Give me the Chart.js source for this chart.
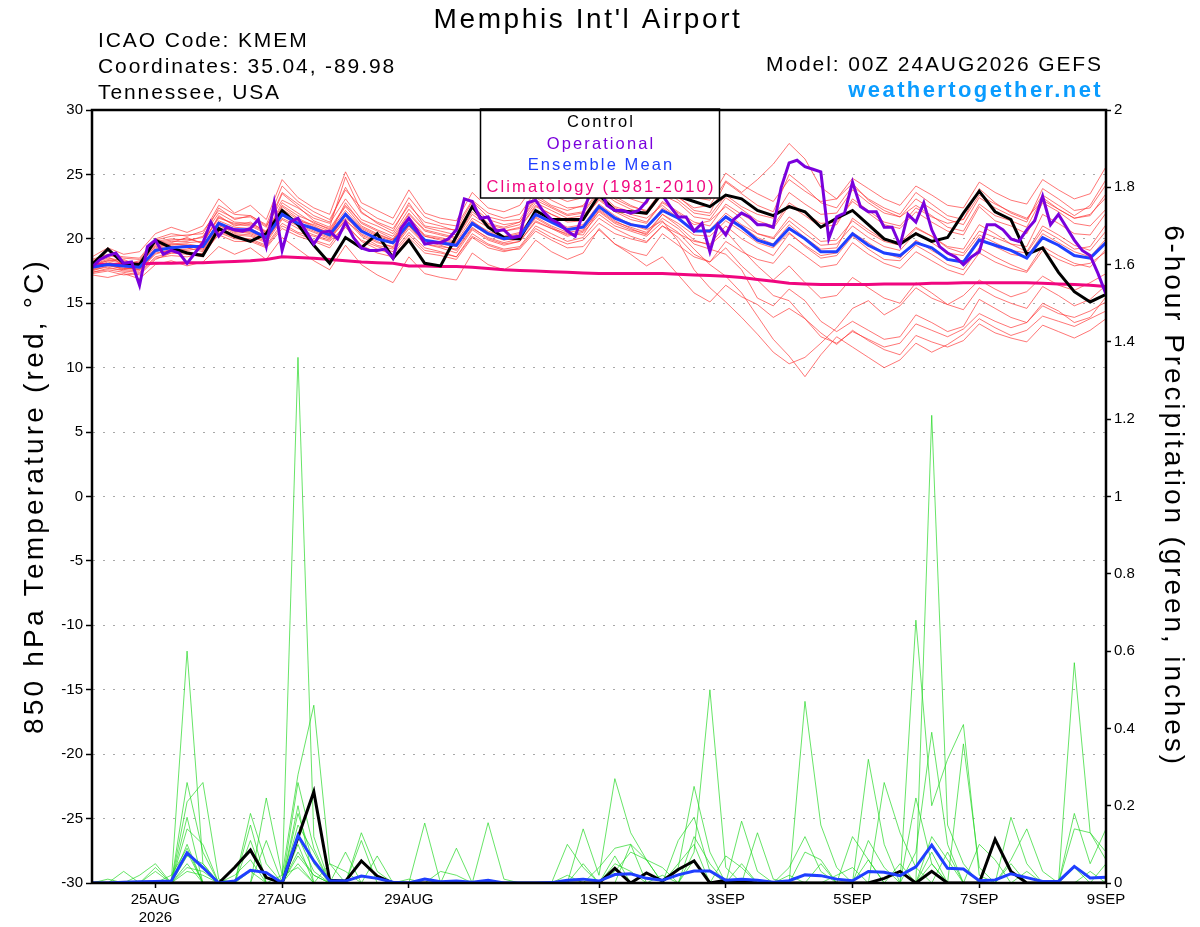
<!DOCTYPE html>
<html>
<head>
<meta charset="utf-8">
<title>Memphis Int'l Airport GEFS</title>
<script src="https://cdn.jsdelivr.net/npm/chart.js@4.4.1/dist/chart.umd.min.js"></script>
<style>
html, body { margin: 0; padding: 0; background: #fff; }
#wrap { width: 1200px; height: 927px; }
</style>
</head>
<body>
<div id="wrap"><canvas id="myChart" width="1200" height="927"></canvas></div>
<script>
// x axis: forecast hour from 00Z 24AUG2026
const tickHours = [24, 72, 120, 192, 240, 288, 336, 384];
const tickLabels = ['25AUG', '27AUG', '29AUG', '1SEP', '3SEP', '5SEP', '7SEP', '9SEP'];
const yearLabel = '2026';

// 850 hPa temperature, 6-hourly (65 values)
const controlTemp = [18.0, 19.2, 18.1, 18.0, 19.9, 19.3, 18.9, 18.7, 20.8, 20.2, 19.8, 20.4, 22.2, 21.1, 19.5, 18.1,
	20.1, 19.3, 20.4, 18.5, 19.9, 18.1, 17.9, 20.2, 22.5, 20.9, 20.1, 20.0, 22.2, 21.5, 21.5, 21.5,
	23.4, 22.2, 22.1, 22.0, 23.6, 23.3, 22.9, 22.5, 23.4, 23.1, 22.2, 21.8, 22.5, 22.1, 20.9, 21.6,
	22.2, 21.1, 20.0, 19.6, 20.4, 19.8, 20.1, 22.0, 23.7, 22.1, 21.5, 18.8, 19.3, 17.4, 15.9, 15.1, 15.7];
const meanTemp = [17.8, 18.0, 17.9, 17.8, 19.1, 19.3, 19.4, 19.4, 21.2, 20.7, 20.7, 20.1, 21.9, 21.2, 20.8, 20.3,
	21.9, 20.6, 20.0, 19.7, 21.2, 19.9, 19.7, 19.5, 21.2, 20.4, 20.0, 20.2, 21.9, 21.3, 20.7, 20.9,
	22.5, 21.6, 21.1, 20.9, 22.2, 21.6, 20.6, 20.6, 21.7, 20.9, 19.9, 19.5, 20.8, 20.0, 19.0, 19.0,
	20.4, 19.5, 18.9, 18.7, 19.7, 19.3, 18.4, 18.2, 19.9, 19.5, 19.1, 18.5, 20.1, 19.5, 18.7, 18.5, 19.7];
const climTemp = [18.0, 18.0, 18.0, 18.05, 18.1, 18.1, 18.15, 18.15, 18.2, 18.25, 18.3, 18.4, 18.6, 18.55, 18.5, 18.4,
	18.3, 18.2, 18.15, 18.1, 17.9, 17.9, 17.85, 17.85, 17.8, 17.7, 17.6, 17.55, 17.5, 17.45, 17.4, 17.35,
	17.3, 17.3, 17.3, 17.3, 17.3, 17.25, 17.2, 17.15, 17.1, 17.0, 16.85, 16.7, 16.55, 16.5, 16.45, 16.45,
	16.45, 16.45, 16.5, 16.5, 16.5, 16.55, 16.55, 16.6, 16.6, 16.6, 16.6, 16.6, 16.55, 16.5, 16.45, 16.4, 16.3];
// operational run, 3-hourly (129 values)
const operTemp = [17.8, 18.4, 18.7, 18.9, 18.1, 18.2, 16.4, 19.4, 19.9, 18.8, 19.1, 18.9, 18.1, 18.9, 19.7, 21.3,
	20.2, 20.9, 20.7, 20.6, 20.8, 21.5, 19.4, 22.8, 19.1, 21.3, 21.6, 20.6, 19.6, 20.5, 20.6, 20.0,
	21.3, 20.1, 19.3, 19.1, 19.1, 19.2, 18.5, 20.8, 21.6, 20.7, 19.6, 19.7, 19.7, 20.0, 20.7, 23.1,
	22.9, 21.6, 21.7, 20.6, 20.7, 20.1, 20.2, 22.8, 23.0, 22.1, 21.5, 21.2, 20.6, 20.2, 22.0, 23.8,
	24.2, 22.6, 22.2, 22.2, 22.0, 22.2, 22.9, 24.0, 23.4, 22.5, 21.7, 21.7, 20.6, 21.2, 19.0, 21.1,
	20.3, 21.5, 22.0, 21.7, 21.1, 21.1, 20.9, 24.0, 25.9, 26.1, 25.6, 25.4, 25.2, 20.0, 21.7, 22.0,
	24.4, 22.5, 22.1, 22.1, 20.9, 20.9, 19.5, 21.9, 21.3, 22.8, 20.7, 19.4, 18.9, 18.6, 18.0, 18.6,
	19.0, 21.1, 21.1, 20.7, 20.0, 19.8, 20.7, 21.4, 23.3, 21.1, 21.9, 20.9, 19.9, 19.1, 18.7, 17.3, 15.7];

// ensemble members, 6-hourly
const memberTemp = [
	[18.2, 18.6, 18.0, 18.3, 19.8, 20.0, 19.9, 20.1, 22.4, 21.5, 21.8, 21.0, 23.0, 22.4, 21.6, 21.2,
	 23.1, 21.5, 21.0, 20.4, 22.3, 20.9, 20.6, 20.3, 22.4, 21.2, 20.9, 21.3, 23.0, 22.4, 21.8, 22.0,
	 23.6, 22.5, 22.1, 21.9, 23.4, 22.8, 21.7, 21.5, 23.2, 22.3, 21.4, 21.0, 22.8, 22.0, 21.2, 21.3,
	 22.9, 22.0, 21.1, 20.8, 22.1, 21.3, 20.6, 20.3, 22.5, 21.4, 21.0, 20.4, 22.8, 22.1, 21.2, 21.0, 22.3],
	[17.6, 17.8, 17.5, 17.4, 18.6, 18.9, 19.0, 18.8, 20.6, 20.1, 20.0, 19.5, 21.2, 20.5, 20.2, 19.8,
	 21.0, 19.9, 19.4, 19.0, 20.5, 19.3, 19.0, 18.6, 20.4, 19.6, 19.2, 19.4, 21.0, 20.4, 19.8, 20.1,
	 21.6, 20.8, 20.2, 19.8, 21.0, 20.1, 18.8, 18.2, 19.3, 17.9, 16.8, 15.6, 15.2, 13.8, 12.4, 11.9,
	 12.8, 12.2, 11.6, 11.9, 13.4, 12.9, 12.4, 13.0, 14.2, 13.6, 13.1, 13.5, 14.8, 14.2, 13.9, 14.4, 15.1],
	[17.9, 18.3, 18.4, 17.9, 19.5, 19.7, 20.1, 19.6, 21.8, 21.0, 21.3, 20.5, 22.6, 21.8, 21.3, 20.7,
	 22.5, 21.0, 20.4, 19.9, 21.7, 20.3, 20.1, 19.8, 21.6, 20.9, 20.6, 20.9, 22.6, 21.9, 21.4, 21.6,
	 23.0, 22.1, 21.5, 21.2, 22.8, 22.0, 21.1, 21.4, 22.5, 21.6, 20.4, 20.1, 21.7, 20.8, 19.8, 19.9,
	 21.4, 20.5, 19.8, 19.5, 20.8, 20.2, 19.3, 18.9, 20.6, 20.1, 19.6, 19.0, 21.0, 20.3, 19.5, 19.1, 20.6],
	[17.4, 17.7, 17.6, 17.5, 18.9, 19.1, 19.2, 19.5, 20.9, 20.3, 20.2, 19.7, 21.5, 20.8, 20.3, 19.9,
	 21.5, 20.2, 19.5, 19.2, 20.8, 19.6, 19.4, 19.2, 20.9, 20.0, 19.6, 19.8, 21.4, 20.8, 20.2, 20.5,
	 21.9, 21.0, 20.6, 20.2, 21.3, 20.5, 19.2, 18.0, 17.1, 15.8, 14.0, 12.2, 10.9, 9.3, 11.0, 12.4,
	 11.6, 10.8, 10.0, 10.6, 11.9, 11.2, 11.8, 12.6, 13.8, 13.1, 12.5, 12.9, 14.0, 13.6, 13.2, 13.8, 14.4],
	[18.0, 18.4, 18.2, 18.1, 19.6, 19.8, 19.8, 20.2, 22.0, 21.3, 21.2, 20.6, 23.5, 22.5, 21.4, 20.9,
	 24.8, 22.1, 21.2, 20.6, 22.8, 21.0, 20.8, 20.7, 22.9, 21.7, 21.4, 21.5, 23.4, 22.6, 22.2, 22.6,
	 24.2, 23.3, 22.6, 22.1, 23.7, 23.2, 22.4, 22.6, 24.5, 23.6, 24.6, 25.8, 27.4, 26.2, 24.0, 23.1,
	 24.3, 23.0, 22.2, 21.7, 22.6, 21.8, 20.9, 20.6, 22.7, 21.8, 21.4, 20.9, 23.2, 22.3, 21.6, 21.8, 23.5],
	[17.5, 17.9, 17.7, 17.6, 19.0, 19.4, 19.3, 19.0, 21.0, 20.6, 20.4, 19.9, 21.6, 21.0, 20.5, 20.0,
	 21.8, 20.3, 19.7, 19.4, 21.0, 19.6, 19.3, 18.9, 20.7, 19.9, 19.5, 19.8, 21.3, 20.8, 20.4, 20.3,
	 22.2, 21.3, 20.9, 20.5, 21.9, 21.2, 20.3, 20.2, 21.4, 20.6, 19.7, 19.3, 20.5, 19.4, 18.5, 18.7,
	 20.2, 19.2, 18.4, 18.3, 19.5, 18.8, 18.0, 17.6, 19.3, 18.6, 18.0, 17.5, 19.4, 18.7, 18.1, 17.8, 19.2],
	[17.7, 18.1, 17.8, 17.6, 18.8, 19.2, 19.1, 19.3, 21.3, 20.6, 20.5, 20.0, 21.9, 21.3, 20.7, 20.2,
	 21.6, 20.7, 20.0, 19.6, 21.2, 19.9, 19.6, 19.4, 21.1, 20.3, 19.9, 20.1, 21.7, 21.0, 20.5, 20.7,
	 22.1, 21.2, 20.7, 20.4, 21.6, 20.8, 19.6, 19.2, 18.8, 17.6, 15.4, 14.8, 16.1, 15.2, 13.6, 12.8,
	 13.6, 12.9, 12.2, 12.4, 14.1, 13.5, 12.8, 13.2, 15.3, 14.6, 13.9, 13.5, 15.0, 14.4, 13.5, 13.9, 15.5],
	[18.3, 18.7, 18.5, 18.4, 19.9, 20.2, 20.3, 20.4, 22.6, 21.9, 21.8, 21.1, 24.1, 22.9, 22.1, 21.5,
	 23.8, 22.4, 21.6, 21.1, 23.2, 21.7, 21.2, 21.0, 23.0, 22.0, 21.6, 21.9, 23.7, 23.0, 22.4, 22.5,
	 24.0, 23.1, 22.5, 22.2, 23.8, 23.0, 22.0, 21.8, 23.4, 22.5, 21.9, 21.6, 23.6, 22.7, 21.9, 22.0,
	 23.8, 22.8, 22.0, 21.7, 23.1, 22.3, 21.5, 21.1, 23.2, 22.4, 21.8, 21.3, 23.9, 23.1, 22.2, 22.4, 24.2],
	[17.3, 17.5, 17.2, 17.3, 18.5, 18.7, 18.6, 18.9, 20.3, 19.8, 19.8, 19.3, 20.8, 20.2, 19.8, 19.3,
	 20.9, 19.5, 18.9, 18.6, 20.1, 18.9, 18.7, 18.4, 20.1, 19.3, 19.0, 19.3, 20.8, 20.1, 19.6, 19.9,
	 21.2, 20.4, 20.0, 19.7, 21.0, 20.4, 19.8, 19.6, 21.0, 20.0, 19.3, 18.7, 20.4, 19.5, 18.7, 18.9,
	 20.5, 19.7, 18.9, 18.5, 19.9, 19.1, 18.4, 18.3, 20.1, 19.4, 18.8, 18.6, 20.4, 19.7, 19.0, 18.6, 20.0],
	[17.8, 18.2, 17.9, 17.8, 19.2, 19.5, 19.6, 19.4, 21.4, 20.9, 20.8, 20.2, 22.3, 21.5, 20.9, 20.5,
	 22.0, 20.8, 20.2, 19.8, 21.5, 20.2, 20.0, 19.7, 21.3, 20.6, 20.2, 20.5, 22.1, 21.5, 20.9, 21.1,
	 22.7, 21.8, 21.1, 20.7, 21.4, 19.8, 17.6, 16.2, 15.1, 13.9, 12.6, 11.2, 10.3, 10.8, 11.9, 13.1,
	 14.6, 15.2, 14.1, 14.8, 16.2, 15.4, 14.9, 15.6, 16.8, 16.1, 15.5, 15.9, 17.1, 16.4, 16.0, 16.6, 17.3],
	[18.1, 18.5, 18.3, 18.0, 19.4, 19.6, 19.7, 19.8, 21.7, 21.1, 21.0, 20.4, 22.0, 21.4, 21.1, 20.6,
	 22.2, 20.9, 20.3, 19.9, 21.5, 20.2, 19.9, 19.6, 21.4, 20.5, 20.1, 20.4, 22.0, 21.3, 20.8, 21.0,
	 22.4, 21.6, 21.2, 20.8, 22.4, 21.6, 20.6, 20.7, 22.0, 21.1, 20.4, 20.0, 21.4, 20.4, 19.5, 19.6,
	 21.0, 20.1, 19.4, 19.1, 20.5, 19.7, 18.9, 18.7, 20.3, 19.7, 19.1, 18.9, 20.7, 20.0, 19.2, 19.4, 21.1],
	[17.6, 18.0, 17.7, 17.7, 19.3, 19.6, 19.5, 19.2, 21.2, 20.5, 20.6, 20.0, 22.5, 21.6, 21.0, 20.4,
	 22.8, 21.2, 20.6, 20.0, 21.9, 20.6, 20.3, 20.0, 21.9, 21.0, 20.6, 20.8, 22.5, 21.9, 21.3, 21.4,
	 23.1, 22.2, 21.7, 21.3, 22.9, 22.1, 21.3, 21.0, 22.7, 21.9, 21.2, 20.8, 22.6, 21.8, 20.9, 21.1,
	 23.1, 22.2, 21.3, 21.0, 22.4, 21.7, 21.2, 21.5, 23.9, 22.8, 22.0, 21.5, 23.4, 22.6, 21.8, 22.6, 24.6],
	[17.4, 17.6, 17.4, 17.2, 18.4, 18.9, 18.8, 18.6, 20.5, 20.0, 19.9, 19.4, 21.0, 20.4, 19.9, 19.5,
	 21.2, 19.8, 19.2, 18.8, 20.3, 19.1, 18.9, 18.6, 20.2, 19.5, 19.1, 19.2, 20.6, 19.9, 19.3, 19.4,
	 20.7, 19.6, 18.8, 17.9, 18.6, 17.2, 15.8, 15.1, 16.4, 15.5, 14.9, 13.9, 14.6, 13.8, 12.7, 11.8,
	 12.9, 12.1, 11.4, 11.0, 12.5, 12.0, 11.6, 12.1, 13.4, 12.7, 12.3, 12.0, 13.3, 12.8, 12.3, 12.9, 13.8],
	[18.4, 18.8, 18.6, 18.5, 20.0, 20.4, 20.2, 20.6, 22.2, 21.6, 21.7, 20.9, 23.6, 22.7, 21.8, 21.3,
	 24.0, 22.0, 21.3, 20.8, 22.6, 21.3, 21.0, 20.6, 22.5, 21.5, 21.1, 21.3, 23.2, 22.5, 21.9, 22.1,
	 23.8, 22.9, 22.3, 21.9, 23.9, 23.3, 22.2, 22.0, 24.4, 23.5, 22.6, 22.1, 25.0, 24.0, 22.8, 22.4,
	 24.1, 23.1, 22.4, 21.9, 23.6, 22.7, 21.8, 21.5, 23.4, 22.7, 22.1, 21.6, 23.0, 22.3, 21.6, 21.9, 23.2],
	[17.7, 18.0, 17.6, 17.9, 19.1, 19.3, 19.5, 19.1, 21.1, 20.4, 20.3, 19.8, 21.8, 21.1, 20.6, 20.1,
	 21.4, 20.4, 19.8, 19.3, 21.0, 19.8, 19.5, 19.1, 20.8, 20.1, 19.7, 20.0, 21.6, 20.9, 20.3, 20.6,
	 22.3, 21.4, 20.8, 20.3, 21.9, 21.0, 19.9, 19.5, 20.6, 19.2, 17.9, 16.8, 17.9, 16.6, 15.4, 15.6,
	 17.0, 16.2, 15.4, 15.0, 16.6, 15.8, 14.9, 14.5, 16.2, 15.5, 15.0, 14.6, 16.3, 15.6, 14.8, 15.3, 16.4],
	[18.0, 18.3, 18.1, 18.2, 19.7, 19.9, 20.0, 19.7, 21.6, 21.2, 21.1, 20.5, 22.8, 22.0, 21.2, 20.8,
	 22.6, 21.3, 20.7, 20.2, 22.0, 20.7, 20.4, 20.1, 22.1, 21.1, 20.8, 21.1, 22.8, 22.2, 21.6, 21.8,
	 23.3, 22.4, 21.9, 21.6, 22.6, 21.6, 20.7, 20.5, 21.8, 21.0, 20.1, 19.6, 21.1, 20.1, 19.2, 19.3,
	 21.6, 20.7, 19.9, 19.7, 20.9, 20.2, 19.4, 19.2, 21.1, 20.4, 19.6, 19.4, 21.9, 21.2, 20.4, 20.3, 22.0],
	[17.2, 17.0, 17.3, 16.9, 18.0, 18.3, 17.9, 18.2, 19.4, 18.8, 19.3, 18.4, 20.1, 19.2, 18.3, 17.6,
	 19.5, 18.0, 17.2, 16.6, 18.6, 17.3, 17.0, 16.8, 18.9, 18.0, 17.6, 18.3, 19.9, 19.0, 18.4, 18.9,
	 20.8, 19.6, 19.0, 18.7, 20.4, 19.5, 18.6, 18.2, 19.8, 19.0, 18.4, 18.1, 19.6, 18.7, 17.8, 18.0,
	 19.7, 18.8, 18.1, 17.7, 19.0, 18.3, 17.6, 17.2, 18.9, 18.2, 17.7, 17.4, 19.1, 18.4, 17.9, 18.1, 19.0],
	[18.6, 19.3, 18.8, 19.0, 20.4, 20.9, 20.5, 21.0, 23.1, 22.0, 22.6, 21.5, 24.6, 23.2, 22.4, 21.9,
	 25.2, 22.8, 22.2, 21.6, 23.8, 22.0, 21.6, 21.4, 23.6, 22.4, 22.1, 22.6, 24.3, 23.4, 22.9, 23.2,
	 24.8, 23.6, 23.1, 22.7, 24.9, 24.1, 23.2, 23.0, 25.1, 24.2, 23.5, 22.9, 24.6, 23.7, 22.9, 23.1,
	 24.7, 23.9, 23.1, 22.6, 24.1, 23.4, 22.6, 22.4, 24.4, 23.6, 23.0, 22.7, 24.6, 23.8, 23.1, 23.5, 25.6]
];

// 6-hour precipitation (inches), 6-hourly
const controlPrecip = [0, 0, 0, 0, 0, 0, 0, 0, 0, 0.04, 0.085, 0.014, 0, 0.118, 0.236, 0.007,
	0.005, 0.057, 0.018, 0, 0, 0, 0, 0, 0, 0, 0, 0, 0, 0, 0, 0,
	0, 0.038, 0, 0.026, 0.005, 0.035, 0.057, 0, 0.007, 0.003, 0, 0, 0, 0, 0, 0,
	0, 0, 0.012, 0.03, 0, 0.03, 0, 0, 0, 0.113, 0.03, 0, 0, 0, 0, 0, 0];
const meanPrecip = [0, 0, 0.002, 0.003, 0.004, 0.005, 0.078, 0.04, 0, 0.005, 0.033, 0.027, 0, 0.123, 0.057, 0.005,
	0.005, 0.018, 0.012, 0.002, 0, 0.01, 0.003, 0.005, 0.002, 0.007, 0, 0, 0, 0.001, 0.007, 0.01,
	0.005, 0.022, 0.024, 0.012, 0.007, 0.021, 0.031, 0.031, 0.007, 0.01, 0.007, 0.002, 0.006, 0.021, 0.019, 0.01,
	0.006, 0.03, 0.028, 0.019, 0.042, 0.098, 0.038, 0.036, 0.006, 0.008, 0.024, 0.014, 0.004, 0.004, 0.043, 0.013, 0.015];
const memberPrecip = [
	[0, 0, 0, 0, 0, 0, 0.60, 0.05, 0, 0, 0, 0, 0, 0.08, 0.02, 0, 0, 0, 0, 0, 0, 0, 0, 0, 0, 0, 0, 0, 0, 0, 0, 0,
	 0, 0.05, 0.03, 0, 0, 0, 0, 0, 0, 0, 0, 0, 0, 0, 0, 0, 0, 0, 0, 0, 0, 1.21, 0.15, 0.05, 0, 0, 0, 0, 0, 0, 0.04, 0, 0],
	[0, 0, 0.03, 0, 0, 0, 0.26, 0.08, 0, 0, 0.18, 0.05, 0, 1.36, 0.12, 0, 0, 0, 0, 0, 0, 0, 0, 0, 0, 0, 0, 0, 0, 0, 0, 0,
	 0, 0, 0, 0, 0, 0, 0.08, 0.50, 0.04, 0, 0, 0, 0, 0, 0, 0, 0, 0, 0, 0, 0.08, 0.39, 0.1, 0, 0, 0, 0, 0, 0, 0, 0, 0, 0],
	[0, 0, 0, 0, 0, 0, 0.21, 0.26, 0.01, 0, 0, 0.22, 0.02, 0.28, 0.46, 0.05, 0, 0, 0, 0, 0, 0, 0, 0, 0, 0, 0, 0, 0, 0, 0, 0,
	 0, 0, 0, 0, 0, 0, 0, 0, 0, 0, 0, 0, 0, 0.47, 0.15, 0.04, 0, 0, 0, 0, 0, 0, 0, 0, 0, 0, 0.17, 0.05, 0, 0, 0, 0, 0],
	[0, 0, 0, 0.02, 0.05, 0, 0.17, 0, 0, 0, 0.15, 0, 0, 0.26, 0.09, 0, 0, 0.13, 0.03, 0, 0, 0, 0, 0, 0, 0, 0, 0, 0, 0, 0, 0,
	 0, 0, 0, 0, 0, 0, 0, 0, 0, 0, 0, 0, 0, 0, 0, 0, 0, 0, 0, 0, 0.68, 0.2, 0.32, 0.41, 0.02, 0, 0, 0, 0, 0, 0, 0, 0],
	[0, 0, 0, 0, 0, 0, 0.14, 0.1, 0, 0, 0.11, 0, 0, 0.2, 0, 0, 0.08, 0, 0, 0, 0, 0.155, 0, 0.09, 0, 0, 0, 0, 0, 0, 0, 0,
	 0, 0, 0, 0, 0, 0, 0, 0, 0, 0, 0, 0, 0, 0, 0, 0, 0, 0.32, 0.1, 0, 0, 0, 0, 0, 0, 0, 0, 0, 0, 0, 0.57, 0.13, 0.06],
	[0, 0, 0, 0, 0.04, 0, 0.1, 0, 0, 0, 0, 0, 0, 0.15, 0.08, 0, 0, 0.11, 0, 0, 0, 0, 0, 0, 0, 0.156, 0.01, 0, 0, 0, 0.02, 0,
	 0, 0, 0, 0, 0, 0.04, 0.25, 0.08, 0, 0.16, 0.03, 0, 0, 0, 0, 0, 0, 0, 0.26, 0.13, 0.04, 0, 0, 0, 0, 0, 0, 0, 0, 0, 0, 0, 0],
	[0, 0.01, 0, 0, 0, 0, 0.07, 0.05, 0, 0, 0, 0.11, 0, 0.18, 0.05, 0, 0, 0, 0.07, 0, 0, 0, 0, 0, 0, 0, 0, 0, 0, 0, 0, 0.14,
	 0.02, 0.27, 0.13, 0.06, 0, 0, 0, 0, 0, 0, 0, 0, 0, 0, 0.05, 0, 0.12, 0.06, 0, 0, 0, 0, 0, 0.36, 0.04, 0, 0, 0, 0, 0, 0, 0, 0],
	[0, 0, 0, 0, 0, 0.02, 0.09, 0, 0, 0.02, 0.06, 0, 0, 0.12, 0.03, 0, 0, 0, 0, 0, 0, 0, 0, 0, 0, 0, 0, 0, 0, 0, 0.1, 0.04,
	 0, 0, 0.1, 0.06, 0, 0.11, 0.17, 0.03, 0, 0, 0.13, 0.01, 0, 0, 0, 0, 0, 0, 0, 0, 0.22, 0.05, 0, 0, 0, 0, 0, 0, 0, 0, 0.18, 0.05, 0.14],
	[0, 0, 0, 0, 0, 0, 0.05, 0, 0, 0, 0, 0, 0, 0.1, 0, 0.05, 0.03, 0, 0, 0, 0, 0, 0, 0, 0, 0, 0, 0, 0, 0, 0, 0,
	 0, 0.03, 0.08, 0.06, 0.04, 0, 0, 0, 0.07, 0.04, 0, 0, 0, 0.08, 0.06, 0, 0, 0, 0, 0, 0, 0.12, 0.06, 0, 0, 0, 0.06, 0.14, 0.03, 0, 0.14, 0.13, 0.08],
	[0, 0, 0, 0, 0, 0, 0.04, 0.03, 0, 0, 0.03, 0, 0, 0.07, 0.02, 0, 0, 0, 0, 0, 0, 0, 0.03, 0.02, 0, 0, 0, 0, 0, 0, 0, 0,
	 0.04, 0.09, 0.1, 0, 0, 0, 0.12, 0.05, 0, 0, 0, 0, 0.04, 0.12, 0.03, 0, 0, 0.11, 0.04, 0, 0, 0.08, 0, 0, 0.1, 0.06, 0, 0, 0, 0, 0, 0, 0],
	[0, 0, 0, 0, 0.03, 0, 0.08, 0, 0, 0, 0, 0, 0, 0.05, 0, 0, 0, 0, 0, 0, 0.01, 0, 0, 0, 0, 0, 0, 0, 0, 0, 0, 0.05,
	 0, 0.07, 0, 0, 0.02, 0, 0.06, 0, 0, 0.05, 0, 0, 0, 0, 0, 0.02, 0.04, 0, 0, 0.05, 0, 0, 0.08, 0, 0, 0, 0.05, 0, 0, 0, 0, 0.03, 0],
	[0, 0, 0, 0, 0, 0, 0.03, 0.02, 0, 0, 0, 0, 0.02, 0.04, 0, 0, 0, 0.06, 0.02, 0, 0, 0, 0, 0, 0, 0, 0, 0, 0, 0, 0, 0,
	 0, 0.04, 0, 0, 0, 0.05, 0.1, 0, 0, 0, 0, 0, 0.02, 0, 0, 0, 0, 0.06, 0, 0, 0, 0.05, 0, 0, 0, 0, 0, 0.03, 0, 0, 0, 0, 0.05]
];

const FONT = "'Liberation Sans', Arial, Helvetica, sans-serif";

function series(vals, step) {
	return vals.map((v, i) => ({ x: i * step, y: v }));
}

const datasets = [];
// main lines first (drawn on top)
datasets.push({ data: series(operTemp, 3), borderColor: '#7a00dc', borderWidth: 3, yAxisID: 'y', order: 0 });
datasets.push({ data: series(meanTemp, 6), borderColor: '#1f3fff', borderWidth: 3, yAxisID: 'y', order: 1 });
datasets.push({ data: series(controlTemp, 6), borderColor: '#000000', borderWidth: 3, yAxisID: 'y', order: 2 });
datasets.push({ data: series(climTemp, 6), borderColor: '#f0067f', borderWidth: 3, yAxisID: 'y', order: 3 });
datasets.push({ data: series(meanPrecip, 6), borderColor: '#1f3fff', borderWidth: 3, yAxisID: 'y2', order: 4 });
datasets.push({ data: series(controlPrecip, 6), borderColor: '#000000', borderWidth: 3, yAxisID: 'y2', order: 5 });
memberTemp.forEach(m => {
	datasets.push({ data: series(m, 6), borderColor: 'rgba(255,50,50,0.75)', borderWidth: 0.9, yAxisID: 'y', order: 10 });
});
memberPrecip.forEach(m => {
	datasets.push({ data: series(m, 6), borderColor: 'rgba(30,215,30,0.85)', borderWidth: 0.8, yAxisID: 'y2', order: 9 });
});

function txt(ctx, s, x, y, size, color, align, weight, spacing) {
	ctx.font = (weight || 'normal') + ' ' + size + 'px ' + FONT;
	ctx.fillStyle = color;
	ctx.textAlign = align;
	ctx.textBaseline = 'alphabetic';
	ctx.letterSpacing = spacing + 'px';
	ctx.fillText(s, x, y);
}

const decor = {
	id: 'decor',
	afterDraw(chart) {
		const ctx = chart.ctx;
		const a = chart.chartArea;
		ctx.save();
		// legend box
		ctx.fillStyle = '#fff';
		ctx.fillRect(480.5, 110, 239, 88);
		ctx.strokeStyle = '#000';
		ctx.lineWidth = 1.5;
		ctx.strokeRect(480.5, 109, 239, 89);
		txt(ctx, 'Control', 601, 127, 16.5, '#000', 'center', 'normal', 2.1);
		txt(ctx, 'Operational', 601, 148.5, 16.5, '#7a00dc', 'center', 'normal', 2.1);
		txt(ctx, 'Ensemble Mean', 601, 170, 16.5, '#1f3fff', 'center', 'normal', 2.1);
		txt(ctx, 'Climatology (1981-2010)', 601, 191.5, 16.5, '#f0067f', 'center', 'normal', 2.1);
		// plot frame
		ctx.strokeStyle = '#000';
		ctx.lineWidth = 2.5;
		ctx.strokeRect(a.left, a.top, a.right - a.left, a.bottom - a.top);
		// header
		txt(ctx, "Memphis Int'l Airport", 588, 28, 28, '#000', 'center', 'normal', 2.6);
		txt(ctx, 'ICAO Code: KMEM', 98, 47, 21, '#000', 'left', 'normal', 1.9);
		txt(ctx, 'Coordinates: 35.04, -89.98', 98, 73, 21, '#000', 'left', 'normal', 1.9);
		txt(ctx, 'Tennessee, USA', 98, 99, 21, '#000', 'left', 'normal', 1.9);
		txt(ctx, 'Model: 00Z 24AUG2026 GEFS', 1103, 71, 21, '#000', 'right', 'normal', 1.9);
		txt(ctx, 'weathertogether.net', 1103, 97, 22, '#0a9cff', 'right', 'bold', 2.4);
		// axis titles
		ctx.save();
		ctx.translate(33, 496);
		ctx.rotate(-Math.PI / 2);
		txt(ctx, '850 hPa Temperature (red, \u00B0C)', 0, 10, 28, '#000', 'center', 'normal', 3.2);
		ctx.restore();
		ctx.save();
		ctx.translate(1175, 496);
		ctx.rotate(Math.PI / 2);
		txt(ctx, '6-hour Precipitation (green, inches)', 0, 10, 28, '#000', 'center', 'normal', 2.9);
		ctx.restore();
		ctx.restore();
	}
};

new Chart(document.getElementById('myChart'), {
	type: 'line',
	data: { datasets },
	options: {
		responsive: false,
		devicePixelRatio: 1,
		animation: false,
		layout: { padding: { top: 110, left: 0, right: 0, bottom: 0 } },
		elements: { point: { radius: 0 }, line: { tension: 0, fill: false } },
		plugins: { legend: { display: false }, tooltip: { enabled: false } },
		scales: {
			x: {
				type: 'linear',
				min: 0,
				max: 384,
				afterBuildTicks: s => { s.ticks = tickHours.map(v => ({ value: v })); },
				afterFit: s => { s.height = 44; },
				ticks: {
					autoSkip: false,
					maxRotation: 0,
					color: '#000',
					padding: 3,
					font: { family: FONT, size: 15 },
					callback: (v, i) => i === 0 ? [tickLabels[i], yearLabel] : tickLabels[i]
				},
				grid: { drawOnChartArea: false, tickLength: 5, tickColor: '#000', tickWidth: 1.5 },
				border: { color: '#000', width: 2 }
			},
			y: {
				position: 'left',
				min: -30,
				max: 30,
				afterFit: s => { s.width = 92; },
				ticks: { stepSize: 5, color: '#000', padding: 3, font: { family: FONT, size: 15 } },
				grid: { color: '#a8a8a8', lineWidth: 1, tickLength: 6, tickColor: '#000', tickWidth: 1.5 },
				border: { color: '#000', width: 2, dash: [2, 8] }
			},
			y2: {
				position: 'right',
				min: 0,
				max: 2,
				afterFit: s => { s.width = 94; },
				ticks: {
					stepSize: 0.2,
					color: '#000',
					padding: 3,
					font: { family: FONT, size: 15 },
					callback: v => String(Math.round(v * 10) / 10)
				},
				grid: { drawOnChartArea: false, tickLength: 5, tickColor: '#000', tickWidth: 1.5 },
				border: { color: '#000', width: 2 }
			}
		}
	},
	plugins: [decor]
});
</script>
</body>
</html>
